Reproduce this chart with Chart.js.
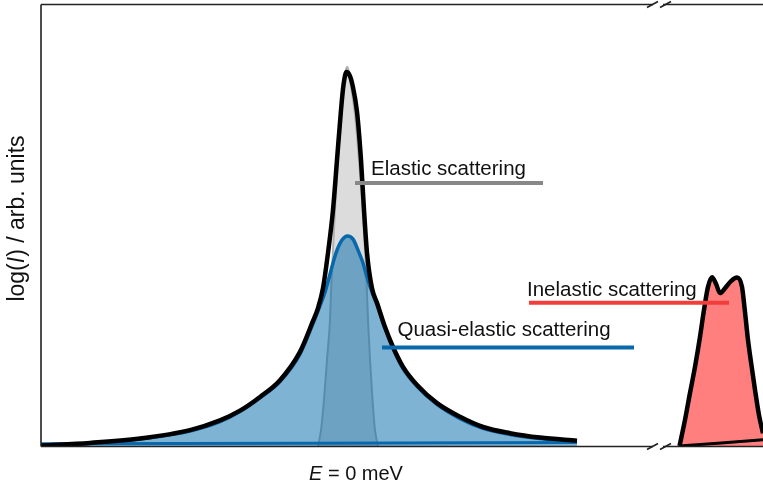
<!DOCTYPE html>
<html>
<head>
<meta charset="utf-8">
<script src="https://cdn.jsdelivr.net/npm/chart.js@4.4.1/dist/chart.umd.min.js"></script>
<style>
  html, body { margin: 0; padding: 0; background: #fff; }
  #wrap { width: 763px; height: 486px; position: relative; }
</style>
</head>
<body>
<div id="wrap"><canvas id="spec"></canvas></div>
<script>
// energy transfer (arb. units, 0 = elastic line) and log(I)
const totalE = [-3.05, -2.56, -2.06, -1.56, -1.26, -1.06, -0.86, -0.66, -0.46, -0.33, -0.28, -0.23, -0.185, -0.13, -0.09, -0.05, -0.025, 0.005,
                0.04, 0.065, 0.11, 0.15, 0.18, 0.21, 0.26, 0.31, 0.39, 0.47, 0.57, 0.71, 0.91, 1.14, 1.37, 1.64, 1.94, 2.31];
const totalI = [0.01, 0.07, 0.17, 0.36, 0.58, 0.80, 1.11, 1.49, 2.13, 2.83, 3.12, 3.57, 4.28, 5.34, 6.47, 7.60, 8.17, 8.46,
                8.37, 8.17, 7.56, 6.47, 5.34, 4.37, 3.57, 3.24, 2.69, 2.24, 1.79, 1.38, 0.97, 0.66, 0.43, 0.29, 0.19, 0.12];

const elasticE = [-0.28, -0.25, -0.22, -0.19, -0.16, -0.145, -0.125, -0.105, -0.08, -0.05, -0.025, -0.005, 0.01,
                  0.025, 0.05, 0.09, 0.13, 0.16, 0.185, 0.205, 0.22, 0.24, 0.265, 0.29, 0.32];
const elasticI = [0, 0.36, 1.04, 1.95, 2.85, 3.76, 4.66, 5.57, 6.47, 7.49, 8.10, 8.46, 8.58,
                  8.50, 8.14, 7.49, 6.47, 5.57, 4.66, 3.76, 2.85, 1.95, 1.04, 0.36, 0];

const quasiE = [-3.05, -2.56, -2.06, -1.56, -1.26, -1.06, -0.86, -0.66, -0.46, -0.33, -0.26, -0.21, -0.17, -0.13, -0.09, -0.04, 0.015,
                0.07, 0.12, 0.17, 0.21, 0.26, 0.31, 0.39, 0.47, 0.57, 0.71, 0.91, 1.14, 1.37, 1.64, 1.94, 2.31];
const quasiI = [0, 0.06, 0.16, 0.34, 0.55, 0.78, 1.09, 1.46, 2.08, 2.77, 3.17, 3.48, 3.80, 4.14, 4.43, 4.66, 4.75,
                4.68, 4.43, 4.14, 3.82, 3.48, 3.19, 2.66, 2.21, 1.75, 1.35, 0.94, 0.62, 0.40, 0.26, 0.17, 0.10];
const quasiBaseE = [-3.05, 2.31];
const quasiBaseI = [0.05, 0.08];

const inelasticE = [3.335, 3.39, 3.44, 3.49, 3.54, 3.58, 3.62, 3.66, 3.70, 3.74, 3.79, 3.85, 3.91, 3.96, 3.99, 4.02, 4.05, 4.09, 4.13, 4.17];
const inelasticI = [0, 0.59, 1.20, 1.79, 2.47, 3.08, 3.60, 3.82, 3.67, 3.46, 3.57, 3.73, 3.81, 3.60, 3.03, 2.40, 1.90, 1.27, 0.70, 0.29];
const inelasticBaseE = [3.335, 4.17];
const inelasticBaseI = [0, 0.14];

const pts = (xs, ys) => xs.map((x, i) => ({ x: x, y: ys[i] }));

// labels with their pointer lines (data units)
const notes = [
    { text: 'Elastic scattering', tx: 0.25, ty: 6.13, x1: 0.09, x2: 1.97, ly: 5.95, color: '#888888' },
    { text: 'Quasi-elastic scattering', tx: 0.515, ty: 2.50, x1: 0.36, x2: 2.88, ly: 2.23, color: '#0868ac' },
    { text: 'Inelastic scattering', tx: 1.81, ty: 3.39, x1: 1.83, x2: 3.83, ly: 3.24, color: '#f23d3d' }
];
const axisBreakE = 3.13;
const FONT = "'Liberation Sans', Arial, sans-serif";

const framePlugin = {
    id: 'frame',
    afterDatasetsDraw(chart) {
        const { ctx, chartArea: a, scales } = chart;
        const bx = scales.x.getPixelForValue(axisBreakE);
        ctx.save();
        ctx.strokeStyle = '#222';
        ctx.lineWidth = 1.6;
        ctx.beginPath();
        ctx.moveTo(a.left, a.top + 0.5);
        ctx.lineTo(a.left, a.bottom + 0.5);
        [a.top + 0.5, a.bottom + 0.5].forEach(y => {
            ctx.moveTo(a.left, y); ctx.lineTo(bx - 6, y);
            ctx.moveTo(bx + 4, y); ctx.lineTo(a.right, y);
        });
        ctx.stroke();
        // break marks
        ctx.beginPath();
        [a.top + 0.5, a.bottom + 0.5].forEach(y => {
            [-7, 6].forEach(dx => {
                ctx.moveTo(bx + dx - 5, y + 3);
                ctx.lineTo(bx + dx + 6, y - 3);
            });
        });
        ctx.stroke();

        // pointer lines + labels
        ctx.lineWidth = 4;
        ctx.font = '20.5px ' + FONT;
        ctx.fillStyle = '#111';
        ctx.textBaseline = 'alphabetic';
        notes.forEach(n => {
            const y = scales.y.getPixelForValue(n.ly);
            ctx.strokeStyle = n.color;
            ctx.beginPath();
            ctx.moveTo(scales.x.getPixelForValue(n.x1), y);
            ctx.lineTo(scales.x.getPixelForValue(n.x2), y);
            ctx.stroke();
            ctx.fillText(n.text, scales.x.getPixelForValue(n.tx), scales.y.getPixelForValue(n.ty));
        });

        // x title: "E = 0 meV"
        let x = 309, y = 480;
        ctx.font = 'italic 20px ' + FONT;
        ctx.fillText('E', x, y);
        x += ctx.measureText('E').width;
        ctx.font = '20px ' + FONT;
        ctx.fillText(' = 0 meV', x, y);

        // y title: "log(I) / arb. units"
        const parts = [['log(', ''], ['I', 'italic '], [') / arb. units', '']];
        ctx.translate(24, 218.5);
        ctx.rotate(-Math.PI / 2);
        let w = 0;
        parts.forEach(p => { ctx.font = p[1] + '23px ' + FONT; w += ctx.measureText(p[0]).width; });
        let px = -w / 2;
        parts.forEach(p => {
            ctx.font = p[1] + '23px ' + FONT;
            ctx.fillText(p[0], px, 0);
            px += ctx.measureText(p[0]).width;
        });
        ctx.restore();
    }
};

new Chart(document.getElementById('spec'), {
    type: 'line',
    data: {
        datasets: [
            { label: 'Elastic', data: pts(elasticE, elasticI), borderColor: '#b0b0b0', borderWidth: 2,
              backgroundColor: '#dcdcdc', fill: 'origin', order: 6 },
            { label: 'Quasi-elastic', data: pts(quasiE, quasiI), borderColor: '#0868ac', borderWidth: 3.5,
              backgroundColor: 'rgba(0,104,168,0.5)', fill: 'origin', order: 5 },
            { label: 'Quasi-elastic base', data: pts(quasiBaseE, quasiBaseI), borderColor: '#0868ac', borderWidth: 3,
              fill: false, order: 4 },
            { label: 'Total', data: pts(totalE, totalI), borderColor: '#000', borderWidth: 4.5, fill: false, order: 3 },
            { label: 'Inelastic', data: pts(inelasticE, inelasticI), borderColor: '#000', borderWidth: 4.5,
              backgroundColor: 'rgba(255,0,0,0.5)', fill: 'origin', order: 2 },
            { label: 'Inelastic base', data: pts(inelasticBaseE, inelasticBaseI), borderColor: '#000', borderWidth: 3,
              fill: false, order: 1 }
        ]
    },
    options: {
        responsive: true,
        maintainAspectRatio: false,
        animation: false,
        events: [],
        layout: { padding: { left: 41, top: 4, right: 0, bottom: 40 } },
        elements: {
            point: { radius: 0 },
            line: { cubicInterpolationMode: 'monotone' }
        },
        scales: {
            x: { type: 'linear', min: -3.05, max: 4.17, display: false },
            y: { type: 'linear', min: 0, max: 10, display: false }
        },
        plugins: { legend: { display: false }, tooltip: { enabled: false } }
    },
    plugins: [framePlugin]
});
</script>
</body>
</html>
